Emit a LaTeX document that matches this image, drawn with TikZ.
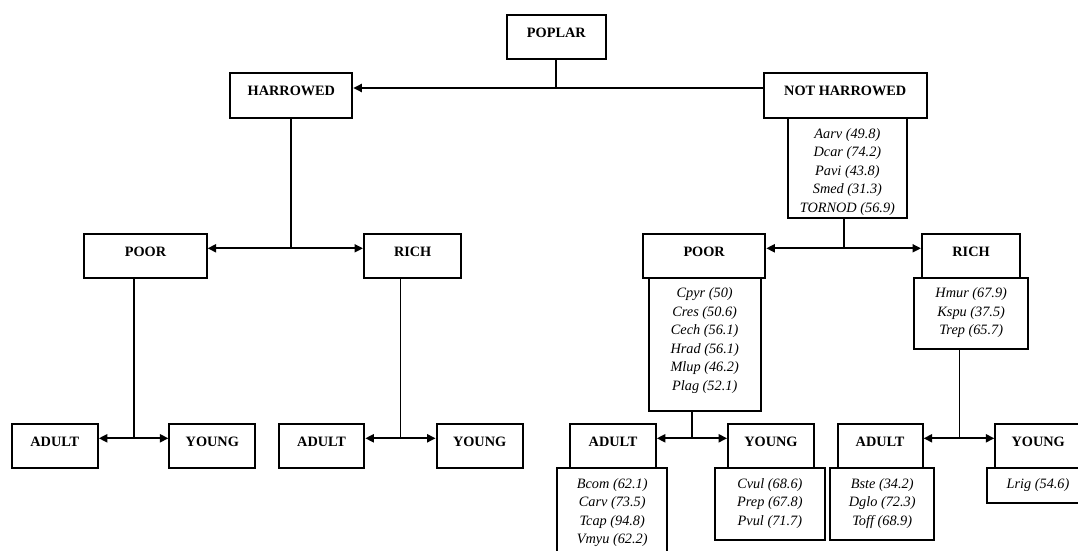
\documentclass[tikz,border=0pt]{standalone}
\usepackage{fontspec}
\setmainfont{Liberation Serif}
\usetikzlibrary{arrows.meta}
\newcommand\lblfont{\fontsize{14.3}{16}\selectfont\bfseries}
\newcommand\spfont{\fontsize{14.3}{18.5}\selectfont\itshape}
\tikzset{
  lbox/.style={draw, line width=2pt, inner sep=0pt, anchor=north, minimum height=44pt,
    text height=22pt, text depth=22pt, font=\lblfont},
  sbox/.style={draw, line width=2pt, inner sep=0pt, anchor=north},
  stext/.style={anchor=north, inner sep=0pt, align=center, font=\spfont},
  conn/.style={line width=2pt},
  thinconn/.style={line width=1.2pt},
  arr/.style={-{Triangle[length=8.5pt,width=8pt]}, line width=2pt},
}
\begin{document}
\begin{tikzpicture}[x=1pt,y=-1pt]
\useasboundingbox (0,0) rectangle (1078,551);
% species boxes
\node[sbox, minimum width=119.4pt, minimum height=100pt] (nhsp) at (847.4,117.3) {};
\node[stext] (nhspt) at (nhsp.north) {\rule{0pt}{20.5pt}Aarv (49.8)\\Dcar (74.2)\\Pavi (43.8)\\Smed (31.3)\\TORNOD (56.9)};
\node[sbox, minimum width=111.6pt, minimum height=132.7pt] (rpsp) at (704.7,277.3) {};
\node[stext] (rpspt) at (rpsp.north) {\rule{0pt}{20pt}Cpyr (50)\\Cres (50.6)\\Cech (56.1)\\Hrad (56.1)\\Mlup (46.2)\\Plag (52.1)};
\node[sbox, minimum width=113.6pt, minimum height=71pt] (rrsp) at (971.2,277.3) {};
\node[stext] (rrspt) at (rrsp.north) {\rule{0pt}{20pt}Hmur (67.9)\\Kspu (37.5)\\Trep (65.7)};
\node[sbox, minimum width=109.7pt, minimum height=90pt] (ra1sp) at (612.2,467.3) {};
\node[stext] (ra1spt) at (ra1sp.north) {\rule{0pt}{20.7pt}Bcom (62.1)\\Carv (73.5)\\Tcap (94.8)\\Vmyu (62.2)};
\node[sbox, minimum width=109.2pt, minimum height=71.4pt] (ry1sp) at (769.9,467.3) {};
\node[stext] (ry1spt) at (ry1sp.north) {\rule{0pt}{20.7pt}Cvul (68.6)\\Prep (67.8)\\Pvul (71.7)};
\node[sbox, minimum width=103.6pt, minimum height=71.4pt] (ra2sp) at (882.2,467.3) {};
\node[stext] (ra2spt) at (ra2sp.north) {\rule{0pt}{20.7pt}Bste (34.2)\\Dglo (72.3)\\Toff (68.9)};
\node[sbox, minimum width=102.6pt, minimum height=34.4pt] (ry2sp) at (1038,467.3) {};
\node[stext] (ry2spt) at (ry2sp.north) {\rule{0pt}{20.7pt}Lrig (54.6)};
% label boxes
\node[lbox, minimum width=98.9pt, minimum height=44.3pt] (poplar) at (556.35,14) {POPLAR};
\node[lbox, minimum width=121.9pt, minimum height=45pt] (harrowed) at (291.35,72.3) {HARROWED};
\node[lbox, minimum width=163.2pt, minimum height=45pt] (nothar) at (845.2,72.3) {NOT HARROWED};
\node[lbox, minimum width=122.2pt] (lpoor) at (145.5,233.3) {POOR};
\node[lbox, minimum width=97.4pt] (lrich) at (412.7,233.3) {RICH};
\node[lbox, minimum width=122.3pt] (rpoor) at (704.15,233.3) {POOR};
\node[lbox, minimum width=98.1pt] (rrich) at (971.05,233.3) {RICH};
\node[lbox, minimum width=86.1pt] (la1) at (54.75,423.3) {ADULT};
\node[lbox, minimum width=85.8pt] (ly1) at (212.3,423.3) {YOUNG};
\node[lbox, minimum width=85.4pt] (la2) at (321.6,423.3) {ADULT};
\node[lbox, minimum width=86.1pt] (ly2) at (479.65,423.3) {YOUNG};
\node[lbox, minimum width=85.4pt] (ra1) at (613.1,423.3) {ADULT};
\node[lbox, minimum width=85.7pt] (ry1) at (770.95,423.3) {YOUNG};
\node[lbox, minimum width=85pt] (ra2) at (880.1,423.3) {ADULT};
\node[lbox, minimum width=85.7pt] (ry2) at (1038.2,423.3) {YOUNG};
% connectors
\coordinate (j1) at (556.35,88);
\draw[conn] (poplar.south) -- (j1);
\draw[arr] (j1) -- (harrowed.east |- j1);
\draw[conn] (j1) -- (nothar.west |- j1);
\coordinate (j2) at (291.35,248.3);
\draw[conn] (harrowed.south) -- (j2);
\draw[arr] (j2) -- (lpoor.east |- j2);
\draw[arr] (j2) -- (lrich.west |- j2);
\coordinate (j3) at (843.8,248.3);
\draw[conn] (j3 |- nhsp.south) -- (j3);
\draw[arr] (j3) -- (rpoor.east |- j3);
\draw[arr] (j3) -- (rrich.west |- j3);
\coordinate (j4) at (133.6,438.3);
\draw[conn] (j4 |- lpoor.south) -- (j4);
\draw[arr] (j4) -- (la1.east |- j4);
\draw[arr] (j4) -- (ly1.west |- j4);
\coordinate (j5) at (400.1,438.3);
\draw[thinconn] (j5 |- lrich.south) -- (j5);
\draw[arr] (j5) -- (la2.east |- j5);
\draw[arr] (j5) -- (ly2.west |- j5);
\coordinate (j6) at (691.9,438.3);
\draw[conn] (j6 |- rpsp.south) -- (j6);
\draw[arr] (j6) -- (ra1.east |- j6);
\draw[arr] (j6) -- (ry1.west |- j6);
\coordinate (j7) at (959.1,438.3);
\draw[thinconn] (j7 |- rrsp.south) -- (j7);
\draw[arr] (j7) -- (ra2.east |- j7);
\draw[arr] (j7) -- (ry2.west |- j7);
\end{tikzpicture}
\end{document}
